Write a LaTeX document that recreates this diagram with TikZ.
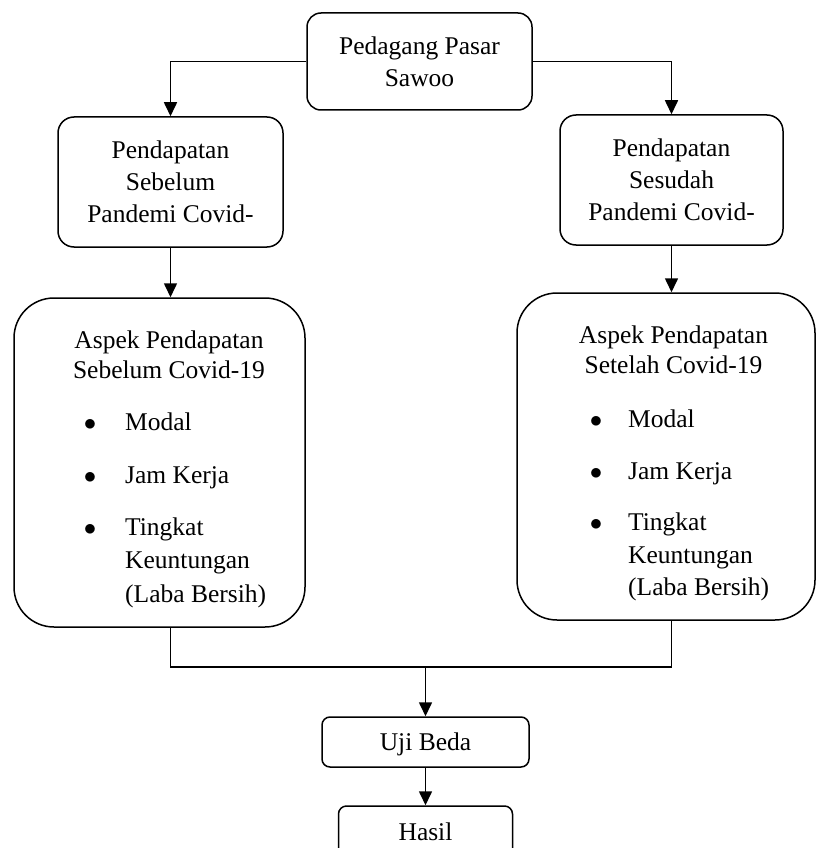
\documentclass[tikz,border=0pt]{standalone}
\usepackage{fontspec}
\setmainfont{Liberation Serif}
\usetikzlibrary{arrows.meta, positioning, calc}

\begin{document}
\begin{tikzpicture}[x=1pt, y=-1pt, font=\fontsize{25.5}{32}\selectfont,
    flowbox/.style={draw, line width=1.5pt, rounded corners=14pt, inner sep=0pt, align=center},
    aspekbox/.style={draw, line width=1.5pt, rounded corners=40pt, inner sep=0pt},
    teks/.style={inner sep=0pt},
    arr/.style={line width=1.6pt, -{Triangle[length=14pt, width=13pt]}},
    garis/.style={line width=1.4pt}]
    \useasboundingbox (0,0) rectangle (817,848);

    % Top box
    \node[flowbox, minimum width=225pt, minimum height=97pt] (pedagang) at (419.5,61.5) {Pedagang Pasar\\Sawoo};

    % Income before / after
    \node[flowbox, rounded corners=16pt, minimum width=225pt, minimum height=130pt] (sebelum) at (170.5,182) {Pendapatan\\Sebelum\\Pandemi Covid-};
    \node[flowbox, rounded corners=16pt, minimum width=223pt, minimum height=130pt] (sesudah) at (671.5,180) {Pendapatan\\Sesudah\\Pandemi Covid-};

    % Aspect boxes
    \node[aspekbox, minimum width=291pt, minimum height=329pt] (aspekSebelum) at (159.5,462.5) {};
    \node[aspekbox, minimum width=298pt, minimum height=327pt] (aspekSetelah) at (666,456.5) {};

    % Left aspect text
    \node[teks, anchor=base] (judulA1) at (169,348) {Aspek Pendapatan};
    \node[teks, anchor=base] (judulA2) at (169,378) {Sebelum Covid-19};
    \foreach \yy in {430,483,535}
        \node[teks, anchor=base] (bulA\yy) at (90,\yy) {$\bullet$};
    \node[teks, anchor=base west] (modalA) at (125,430) {Modal};
    \node[teks, anchor=base west] (jamA) at (125,483) {Jam Kerja};
    \node[teks, anchor=base west] (tingkatA) at (125,535) {Tingkat};
    \node[teks, anchor=base west] (untungA) at (125,568) {Keuntungan};
    \node[teks, anchor=base west] (labaA) at (125,602) {(Laba Bersih)};

    % Right aspect text
    \node[teks, anchor=base] (judulB1) at (673.5,343) {Aspek Pendapatan};
    \node[teks, anchor=base] (judulB2) at (673.5,373) {Setelah Covid-19};
    \foreach \yy in {427,479,530}
        \node[teks, anchor=base] (bulB\yy) at (596,\yy) {$\bullet$};
    \node[teks, anchor=base west] (modalB) at (628,427) {Modal};
    \node[teks, anchor=base west] (jamB) at (628,479) {Jam Kerja};
    \node[teks, anchor=base west] (tingkatB) at (628,530) {Tingkat};
    \node[teks, anchor=base west] (untungB) at (628,563) {Keuntungan};
    \node[teks, anchor=base west] (labaB) at (628,595) {(Laba Bersih)};

    % Bottom boxes
    \node[flowbox, rounded corners=8pt, minimum width=207pt, minimum height=50pt, text height=16pt, text depth=0pt] (ujiBeda) at (425.5,742) {Uji Beda};
    \node[flowbox, rounded corners=8pt, minimum width=174pt, minimum height=52pt] (hasil) at (425.5,832) {Hasil};
    \coordinate (gabung) at (425.5,667);

    % Connectors
    \draw[arr] (pedagang.west) -| (sebelum.north);
    \draw[arr] (pedagang.east) -| (sesudah.north);
    \draw[arr] (sebelum.south) -- (sebelum.south |- aspekSebelum.north);
    \draw[arr] (sesudah.south) -- (sesudah.south |- aspekSetelah.north);
    \draw[garis] (sebelum.south |- aspekSebelum.south) -- (sebelum.south |- gabung)
        -- (sesudah.south |- gabung) -- (sesudah.south |- aspekSetelah.south);
    \draw[arr] (gabung) -- (ujiBeda.north);
    \draw[arr] (ujiBeda.south) -- (hasil.north);
\end{tikzpicture}
\end{document}
